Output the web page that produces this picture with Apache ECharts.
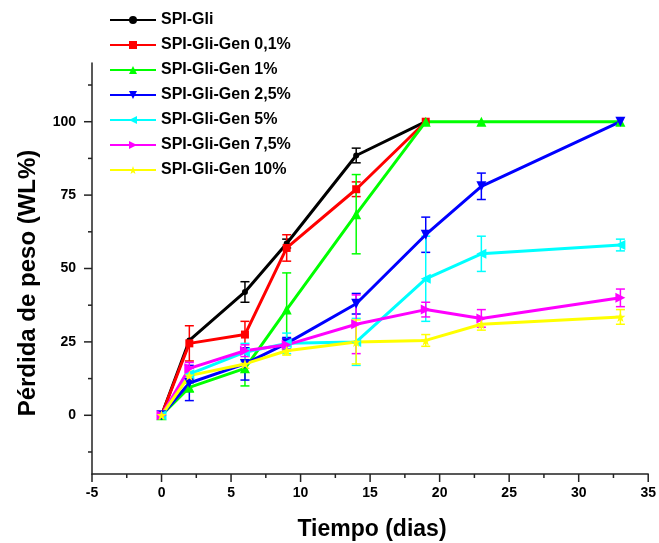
<!DOCTYPE html>
<html>
<head>
<meta charset="utf-8">
<script src="https://cdn.jsdelivr.net/npm/echarts@6/dist/echarts.min.js"></script>
<style>
  html, body { margin: 0; padding: 0; background: #fff; }
  #chart { width: 659px; height: 543px; }
</style>
</head>
<body>
<div id="chart"></div>
<script>
// Weight loss (%) over time for each formulation
const days = [0, 2, 6, 9, 14, 19, 23, 33];
const seriesNames = [
  'SPI-Gli',
  'SPI-Gli-Gen 0,1%',
  'SPI-Gli-Gen 1%',
  'SPI-Gli-Gen 2,5%',
  'SPI-Gli-Gen 5%',
  'SPI-Gli-Gen 7,5%',
  'SPI-Gli-Gen 10%'
];
const spiGli      = [0, 25.5, 42, 58.5, 88.5, 100];
const spiGliErr   = [0, 0, 3.5, 1.5, 2.5, 0];
const gen01       = [0, 24.5, 27.5, 57, 77, 100];
const gen01Err    = [0, 6, 4.5, 4.5, 2.5, 0];
const gen1        = [0, 9.5, 16, 36, 68.5, 100, 100, 100];
const gen1Err     = [0, 1.5, 6, 12.5, 13.5, 0, 0, 0];
const gen25       = [0, 11, 17.5, 24.5, 38, 61.5, 78, 100];
const gen25Err    = [0, 6, 5.5, 2, 3.5, 6, 4.5, 0];
const gen5        = [0, 14, 21.5, 24.5, 25, 46.5, 55, 58];
const gen5Err     = [0, 2, 3, 3.5, 8, 14.5, 6, 2];
const gen75       = [0, 16, 22, 24, 31, 36, 33, 40];
const gen75Err    = [0, 2, 2, 2, 10, 2.5, 3, 3];
const gen10       = [0, 13.5, 17.5, 22, 25, 25.5, 31, 33.5];
const gen10Err    = [0, 1.5, 1.5, 1.5, 7.5, 2, 2, 2.5];

// axis ticks
const yLabelValues = [0, 25, 50, 75, 100];
const yMajorTicks  = [0, 25, 50, 75, 100];
const yMinorTicks  = [-12.5, 12.5, 37.5, 62.5, 87.5, 112.5];
const xMajorTicks  = [-5, 0, 5, 10, 15, 20, 25, 30, 35];
const xMinorTicks  = [-2.5, 2.5, 7.5, 12.5, 17.5, 22.5, 27.5, 32.5];

const values = [spiGli, gen01, gen1, gen25, gen5, gen75, gen10];
const errors = [spiGliErr, gen01Err, gen1Err, gen25Err, gen5Err, gen75Err, gen10Err];

const colors = ['#000000', '#ff0000', '#00ff00', '#0000ff', '#00ffff', '#ff00ff', '#ffff00'];
const STAR = 'path://M0,-10L2.35,-3.24L9.51,-3.09L3.8,1.24L5.88,8.09L0,4L-5.88,8.09L-3.8,1.24L-9.51,-3.09L-2.35,-3.24Z';
const symbols = [
  { symbol: 'circle', size: 6, rotate: 0 },
  { symbol: 'rect', size: 8, rotate: 0 },
  { symbol: 'triangle', size: 10, rotate: 0 },
  { symbol: 'triangle', size: 10, rotate: 180 },
  { symbol: 'triangle', size: 10, rotate: 90 },
  { symbol: 'triangle', size: 10, rotate: -90 },
  { symbol: STAR, size: 10, rotate: 0 }
];

const FONT = '"Liberation Sans", Arial, sans-serif';
const AXIS_COLOR = '#222';
const X_MIN = -5, X_MAX = 35, Y_MIN = -20, Y_MAX = 120;

function errorBar(params, api) {
  const x = api.value(0);
  const lo = api.value(1);
  const hi = api.value(2);
  if (hi - lo <= 0) return { type: 'group', children: [] };
  const top = api.coord([x, hi]);
  const bot = api.coord([x, lo]);
  const hw = 4.5;
  const style = { stroke: api.visual('color'), lineWidth: 1.5 };
  return {
    type: 'group',
    children: [
      { type: 'line', shape: { x1: top[0], y1: top[1], x2: bot[0], y2: bot[1] }, style },
      { type: 'line', shape: { x1: top[0] - hw, y1: top[1], x2: top[0] + hw, y2: top[1] }, style },
      { type: 'line', shape: { x1: bot[0] - hw, y1: bot[1], x2: bot[0] + hw, y2: bot[1] }, style }
    ]
  };
}

// outward tick marks along the left (dim 'y') or bottom (dim 'x') axis line
function tickSeries(ticks, dim, len) {
  return {
    type: 'custom',
    silent: true,
    clip: false,
    z: 5,
    data: ticks.map(v => [v]),
    renderItem: function (params, api) {
      const v = api.value(0);
      const p = dim === 'y' ? api.coord([X_MIN, v]) : api.coord([v, Y_MIN]);
      const shape = dim === 'y'
        ? { x1: p[0] - len, y1: p[1], x2: p[0], y2: p[1] }
        : { x1: p[0], y1: p[1], x2: p[0], y2: p[1] + len };
      return { type: 'line', shape: shape, style: { stroke: AXIS_COLOR, lineWidth: 1.5 } };
    },
    encode: dim === 'y' ? { y: 0 } : { x: 0 }
  };
}

const series = [];
seriesNames.forEach((name, i) => {
  const v = values[i];
  const e = errors[i];
  series.push({
    name: 'err-' + i,
    type: 'custom',
    renderItem: errorBar,
    itemStyle: { color: colors[i] },
    data: v.map((y, k) => [days[k], y - e[k], y + e[k]]),
    z: 2,
    silent: true
  });
});
seriesNames.forEach((name, i) => {
  const v = values[i];
  series.push({
    name: name,
    type: 'line',
    data: v.map((y, k) => [days[k], y]),
    symbol: symbols[i].symbol,
    symbolSize: symbols[i].size,
    symbolRotate: symbols[i].rotate,
    showAllSymbol: true,
    lineStyle: { color: colors[i], width: 3 },
    itemStyle: { color: colors[i] },
    z: 3,
    animation: false
  });
});
series.push(tickSeries(yMajorTicks, 'y', 8));
series.push(tickSeries(yMinorTicks, 'y', 4));
series.push(tickSeries(xMajorTicks, 'x', 8));
series.push(tickSeries(xMinorTicks, 'x', 4));

const chart = echarts.init(document.getElementById('chart'), null, { renderer: 'canvas' });
chart.setOption({
  animation: false,
  backgroundColor: '#ffffff',
  grid: { left: 92, right: 8, top: 63, bottom: 69, containLabel: false },
  legend: {
    data: seriesNames,
    orient: 'vertical',
    left: 104,
    top: 7,
    itemWidth: 46,
    itemHeight: 10,
    itemGap: 9,
    textStyle: { fontFamily: FONT, fontWeight: 'bold', fontSize: 16, color: '#000' },
    selectedMode: false
  },
  xAxis: {
    type: 'value',
    min: X_MIN,
    max: X_MAX,
    interval: 5,
    axisLine: { show: true, onZero: false, lineStyle: { color: AXIS_COLOR, width: 1.5 } },
    axisTick: { show: false },
    axisLabel: { fontFamily: FONT, fontWeight: 'bold', fontSize: 14, color: '#000', margin: 12 },
    splitLine: { show: false }
  },
  yAxis: {
    type: 'value',
    min: Y_MIN,
    max: Y_MAX,
    position: 'left',
    axisLine: { show: true, onZero: false, lineStyle: { color: AXIS_COLOR, width: 1.5 } },
    axisTick: { show: false },
    axisLabel: { customValues: yLabelValues, fontFamily: FONT, fontWeight: 'bold', fontSize: 14, color: '#000', margin: 16 },
    splitLine: { show: false }
  },
  graphic: [
    {
      type: 'text',
      x: 28,
      y: 283,
      rotation: Math.PI / 2,
      style: {
        text: 'Pérdida de peso (WL%)',
        font: 'bold 24px ' + FONT,
        fill: '#000',
        align: 'center',
        verticalAlign: 'middle'
      }
    },
    {
      type: 'text',
      x: 372,
      y: 530,
      style: {
        text: 'Tiempo (dias)',
        font: 'bold 23px ' + FONT,
        fill: '#000',
        align: 'center',
        verticalAlign: 'middle'
      }
    }
  ],
  series: series
});
</script>
</body>
</html>
